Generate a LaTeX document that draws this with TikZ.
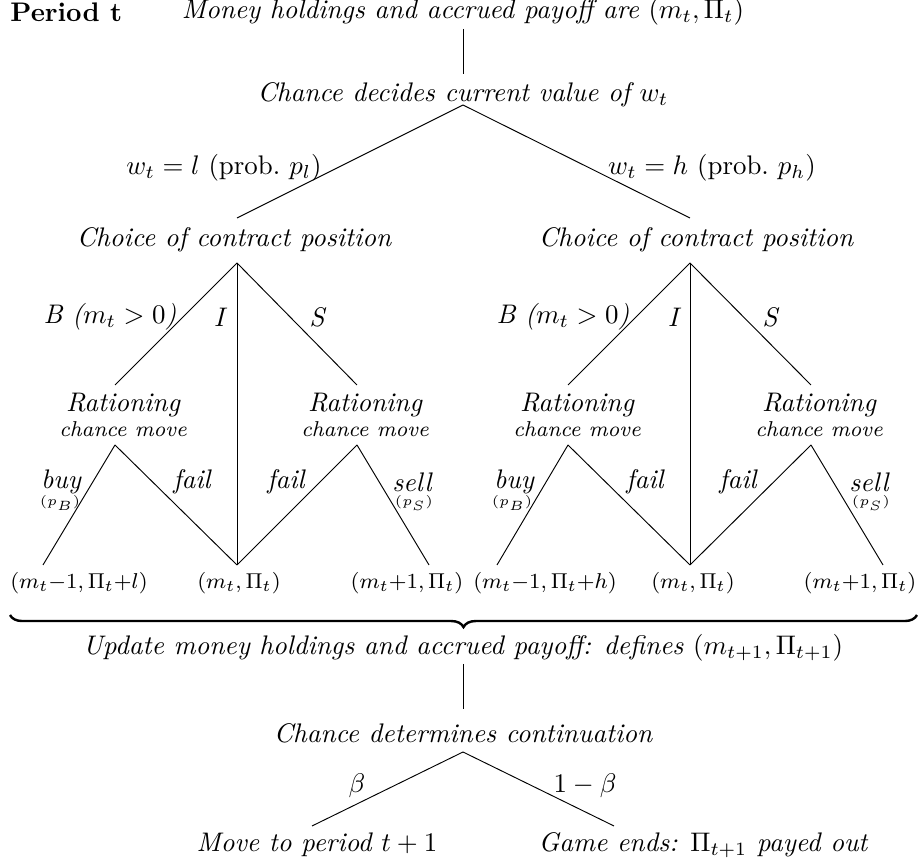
\documentclass[tikz,border=0pt]{standalone}
\usetikzlibrary{decorations.pathreplacing}

\tikzstyle{txt} = [inner sep=1pt, font=\itshape]
\tikzstyle{lbl} = [inner sep=1pt]
\tikzstyle{leaf} = [inner sep=1pt, font=\footnotesize]
\tikzstyle{prob} = [inner sep=0pt, font=\tiny]
\tikzstyle{ration} = [inner sep=1pt, font=\itshape, align=center]
\tikzstyle{brace} = [decorate, decoration={brace, mirror, amplitude=4.5pt}, line width=0.9pt]

\begin{document}
\begin{tikzpicture}[x=0.372pt, y=-0.372pt, line width=0.35pt]
    \useasboundingbox (0,0) rectangle (919,867);

    % start of the period
    \node (period) [anchor=west, inner sep=0pt, font=\bfseries] at (10,12) {Period t};
    \node (start)  [txt] at (463,12) {Money holdings and accrued payoff are $(m_t,\Pi_t)$};
    \node (nature) [txt] at (463,95) {Chance decides current value of $w_t$};
    \coordinate (s1) at (463,29);
    \coordinate (s2) at (463,74);
    \coordinate (n0) at (463,105);
    \coordinate (nl) at (237,218);
    \coordinate (nr) at (690,218);
    \draw (s1) -- (s2);
    \draw (n0) -- (nl);
    \draw (n0) -- (nr);
    \node (wl) [lbl] at (224,168) {$w_t=l$ (prob.\ $p_l$)};
    \node (wh) [lbl] at (712,168) {$w_t=h$ (prob.\ $p_h$)};

    % w = l
    \node (choiceL) [txt] at (234,240) {Choice of contract position};
    \coordinate (cL)  at (237,263);
    \coordinate (bL)  at (115,385);
    \coordinate (sL)  at (357,385);
    \coordinate (rbL) at (115,445);
    \coordinate (rsL) at (357,445);
    \coordinate (l1)  at (43,565);
    \coordinate (l2)  at (237,565);
    \coordinate (l3)  at (429,565);
    \draw (cL) -- (bL);
    \draw (cL) -- (l2);
    \draw (cL) -- (sL);
    \draw (rbL) -- (l1);
    \draw (rbL) -- (l2);
    \draw (rsL) -- (l2);
    \draw (rsL) -- (l3);
    \node (bLlab) [txt] at (110,317) {B ($m_t>0$)};
    \node (iL)    [txt] at (219,317) {I};
    \node (sLlab) [txt] at (317,317) {S};
    \node (ratLB) [ration] at (123,415) {Rationing\\[-3pt] \footnotesize chance move};
    \node (ratLS) [ration] at (365,415) {Rationing\\[-3pt] \footnotesize chance move};
    \node (buyL)  [txt]  at (61,482) {buy};
    \node (pbL)   [prob] at (60,503) {$(p_B)$};
    \node (f1L)   [txt]  at (192,482) {fail};
    \node (f2L)   [txt]  at (286,482) {fail};
    \node (sellL) [txt]  at (412,482) {sell};
    \node (psL)   [prob] at (414,503) {$(p_S)$};
    \node (leafL1) [leaf] at (79,583) {$(m_t{-}1,\Pi_t{+}l)$};
    \node (leafL2) [leaf] at (239,583) {$(m_t,\Pi_t)$};
    \node (leafL3) [leaf] at (407,583) {$(m_t{+}1,\Pi_t)$};

    % w = h
    \node (choiceR) [txt] at (696,240) {Choice of contract position};
    \coordinate (cR)  at (690,263);
    \coordinate (bR)  at (568,385);
    \coordinate (sR)  at (811,385);
    \coordinate (rbR) at (568,445);
    \coordinate (rsR) at (811,445);
    \coordinate (r1)  at (497,565);
    \coordinate (r2)  at (690,565);
    \coordinate (r3)  at (883,565);
    \draw (cR) -- (bR);
    \draw (cR) -- (r2);
    \draw (cR) -- (sR);
    \draw (rbR) -- (r1);
    \draw (rbR) -- (r2);
    \draw (rsR) -- (r2);
    \draw (rsR) -- (r3);
    \node (bRlab) [txt] at (563,317) {B ($m_t>0$)};
    \node (iR)    [txt] at (673,317) {I};
    \node (sRlab) [txt] at (770,317) {S};
    \node (ratRB) [ration] at (577,415) {Rationing\\[-3pt] \footnotesize chance move};
    \node (ratRS) [ration] at (819,415) {Rationing\\[-3pt] \footnotesize chance move};
    \node (buyR)  [txt]  at (514,482) {buy};
    \node (pbR)   [prob] at (512,503) {$(p_B)$};
    \node (f1R)   [txt]  at (645,482) {fail};
    \node (f2R)   [txt]  at (738,482) {fail};
    \node (sellR) [txt]  at (869,482) {sell};
    \node (psR)   [prob] at (871,503) {$(p_S)$};
    \node (leafR1) [leaf] at (545,583) {$(m_t{-}1,\Pi_t{+}h)$};
    \node (leafR2) [leaf] at (693,583) {$(m_t,\Pi_t)$};
    \node (leafR3) [leaf] at (860,583) {$(m_t{+}1,\Pi_t)$};

    % update and continuation
    \coordinate (br1) at (10,615);
    \coordinate (br2) at (917,615);
    \draw [brace] (br1) -- (br2);
    \node (update) [txt] at (463,648) {Update money holdings and accrued payoff: defines $(m_{t+1},\Pi_{t+1})$};
    \coordinate (u1) at (463,664);
    \coordinate (u2) at (463,709);
    \draw (u1) -- (u2);
    \node (cont) [txt] at (463,733) {Chance determines continuation};
    \coordinate (c0) at (463,752);
    \coordinate (cl) at (312,826);
    \coordinate (cr) at (614,826);
    \draw (c0) -- (cl);
    \draw (c0) -- (cr);
    \node (beta)   [lbl] at (357,786) {$\beta$};
    \node (onemb)  [lbl] at (585,786) {$1-\beta$};
    \node (next)   [txt] at (317,845) {Move to period $t+1$};
    \node (ends)   [txt] at (703,845) {Game ends: $\Pi_{t+1}$ payed out};

\end{tikzpicture}
\end{document}
